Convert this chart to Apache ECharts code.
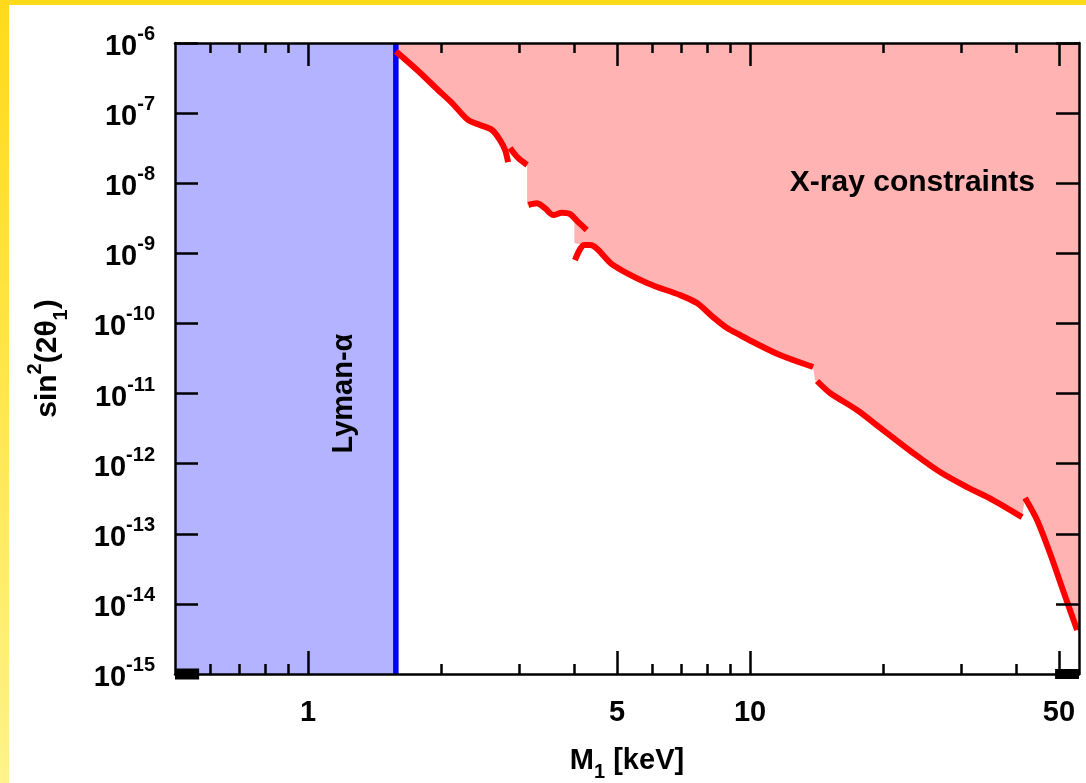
<!DOCTYPE html>
<html><head><meta charset="utf-8">
<script src="https://cdn.jsdelivr.net/npm/echarts@6/dist/echarts.min.js"></script>
<style>
html,body{margin:0;padding:0;width:1086px;height:783px;overflow:hidden;}
body{background:linear-gradient(to bottom,#ffda1a 0%,#ffe546 45%,#fff38a 100%);}
#chart{position:absolute;left:9px;top:5px;width:1077px;height:778px;background:#ffffff;}
</style></head>
<body><div id="chart"></div>
<script>
// ---- axis ranges and ticks ----
const xRange = [0.5, 55.5];
const yRange = [1e-15, 1e-6];
const xMajorTicks = [1, 5, 10, 50];
const xMinorTicks = [0.6, 0.7, 0.8, 0.9, 2, 3, 4, 6, 7, 8, 9, 20, 30, 40];
const xTickLabels = [1, 5, 10, 50];
const yTicks = [1e-15, 1e-14, 1e-13, 1e-12, 1e-11, 1e-10, 1e-9, 1e-8, 1e-7, 1e-6];

// ---- Lyman-alpha bound (keV) ----
const lymanBound = 1.58;
const lymanRegion = [[0.5, 1e-15], [1.58, 1e-15]];
const lymanLine = [[1.58, 1e-15], [1.58, 1e-6]];

// ---- X-ray constraint curve pieces [M1 keV, sin^2(2theta)] ----
const seg1 = [[1.58, 7.6e-7], [1.765, 4.12e-7], [1.968, 2.14e-7], [2.118, 1.39e-7], [2.301, 7.98e-8],
              [2.449, 6.76e-8], [2.607, 5.74e-8], [2.718, 4.13e-8], [2.791, 2.98e-8], [2.835, 2.0e-8]];
const seg2 = [[2.864, 3.18e-8], [2.987, 2.29e-8], [3.13, 1.82e-8]];
const seg3 = [[3.151, 4.89e-9], [3.291, 5.16e-9], [3.438, 4.39e-9], [3.589, 3.52e-9], [3.750, 3.79e-9],
              [3.915, 3.64e-9], [4.055, 2.92e-9], [4.271, 2.15e-9]];
const seg4 = [[4.018, 8.0e-10], [4.211, 1.31e-9], [4.345, 1.31e-9], [4.898, 6.81e-10], [5.848, 3.77e-10],
              [6.944, 2.54e-10], [7.586, 1.95e-10], [8.248, 1.23e-10], [8.872, 8.59e-11], [9.49, 6.84e-11],
              [10.16, 5.43e-11], [11.69, 3.54e-11], [13.89, 2.39e-11]];
const seg5 = [[14.18, 1.51e-11], [15.17, 1.02e-11], [17.46, 5.82e-12], [20.0, 3.01e-12], [23.38, 1.42e-12],
              [26.91, 7.59e-13], [30.97, 4.63e-13], [35.46, 3.03e-13], [41.25, 1.73e-13]];
const seg6 = [[41.9, 3.23e-13], [44.6, 1.57e-13], [47.7, 5.31e-14], [51.06, 1.57e-14], [54.95, 4.23e-15]];

// ---- boundary of the excluded (shaded) X-ray region ----
const xrayEdge = [
  [1.58, 7.6e-7], [1.765, 4.12e-7], [1.968, 2.14e-7], [2.118, 1.39e-7], [2.301, 7.98e-8],
  [2.449, 6.76e-8], [2.607, 5.74e-8], [2.718, 4.13e-8], [2.791, 2.98e-8], [2.835, 2.0e-8],
  [2.864, 3.18e-8], [2.987, 2.29e-8], [3.13, 1.82e-8], [3.13, 4.89e-9],
  [3.151, 4.89e-9], [3.291, 5.16e-9], [3.438, 4.39e-9], [3.589, 3.52e-9], [3.750, 3.79e-9],
  [3.915, 3.64e-9], [4.004, 3.1e-9], [4.004, 1.40e-9],
  [4.211, 1.31e-9], [4.345, 1.31e-9], [4.898, 6.81e-10], [5.848, 3.77e-10],
  [6.944, 2.54e-10], [7.586, 1.95e-10], [8.248, 1.23e-10], [8.872, 8.59e-11], [9.49, 6.84e-11],
  [10.16, 5.43e-11], [11.69, 3.54e-11], [13.89, 2.39e-11], [14.03, 2.3e-11], [14.03, 1.55e-11],
  [14.18, 1.51e-11], [15.17, 1.02e-11], [17.46, 5.82e-12], [20.0, 3.01e-12], [23.38, 1.42e-12],
  [26.91, 7.59e-13], [30.97, 4.63e-13], [35.46, 3.03e-13], [41.25, 1.73e-13],
  [41.9, 3.23e-13], [44.6, 1.57e-13], [47.7, 5.31e-14], [51.06, 1.57e-14], [54.95, 4.23e-15], [55.5, 3.6e-15]
];

// ---- heavy frame marks at the bottom corners ----
const cornerMarkLeft = [[0.5, 1e-15], [0.567, 1e-15]];
const cornerMarkRight = [[49.0, 1e-15], [55.5, 1e-15]];

// ---- annotations ----
const lymanText = [[1.205, 1.0e-11]];
const xrayText = [[23.3, 1.0e-8]];

const FONT = '"Liberation Sans", Arial, Helvetica, sans-serif';
const AXW = 2.5;

const chart = echarts.init(document.getElementById('chart'), null, {renderer: 'canvas'});

function xAxisDef(pos, ticks, len, showLine, withLabels) {
  const a = {
    type: 'log', logBase: 10, min: xRange[0], max: xRange[1], position: pos, z: 10,
    axisLine: {show: showLine, onZero: false, lineStyle: {color: '#000', width: AXW}},
    axisTick: {show: true, inside: true, length: len, customValues: ticks, lineStyle: {color: '#000', width: AXW}},
    axisLabel: {show: false},
    splitLine: {show: false}, minorTick: {show: false}, minorSplitLine: {show: false}
  };
  if (withLabels) {
    a.axisLabel = {
      show: true, customValues: xTickLabels, margin: 24,
      formatter: v => String(v),
      color: '#000', fontSize: 29, fontWeight: 'bold', fontFamily: FONT
    };
    a.name = '{a|M}{sub|1}{a| [keV]}';
    a.nameLocation = 'middle';
    a.nameGap = 72;
    a.nameTextStyle = {
      rich: {
        a: {fontSize: 29, fontWeight: 'bold', fontFamily: FONT, color: '#000', lineHeight: 36, verticalAlign: 'top'},
        sub: {fontSize: 20, fontWeight: 'bold', fontFamily: FONT, color: '#000', lineHeight: 36, verticalAlign: 'bottom'}
      }
    };
  }
  return a;
}

function yAxisDef(pos, withLabels) {
  const a = {
    type: 'log', logBase: 10, min: yRange[0], max: yRange[1], position: pos, z: 10,
    axisLine: {show: true, onZero: false, lineStyle: {color: '#000', width: AXW}},
    axisTick: {show: true, inside: true, length: 23, customValues: yTicks, lineStyle: {color: '#000', width: AXW}},
    axisLabel: {show: false},
    splitLine: {show: false}, minorTick: {show: false}, minorSplitLine: {show: false}
  };
  if (withLabels) {
    a.axisLabel = {
      show: true, customValues: yTicks, margin: 20,
      formatter: v => '{b|10}{s|' + Math.round(Math.log10(v)) + '}',
      rich: {
        b: {fontSize: 29, fontWeight: 'bold', fontFamily: FONT, color: '#000', lineHeight: 37, verticalAlign: 'bottom'},
        s: {fontSize: 20, fontWeight: 'bold', fontFamily: FONT, color: '#000', lineHeight: 37, verticalAlign: 'top'}
      }
    };
    a.name = '{a|sin}{sup|2}{a|(2θ}{sub|1}{a|)}';
    a.nameLocation = 'middle';
    a.nameGap = 104;
    a.nameTextStyle = {
      rich: {
        a: {fontSize: 30, fontWeight: 'bold', fontFamily: FONT, color: '#000', lineHeight: 46, verticalAlign: 'middle'},
        sup: {fontSize: 20, fontWeight: 'bold', fontFamily: FONT, color: '#000', lineHeight: 46, verticalAlign: 'top'},
        sub: {fontSize: 20, fontWeight: 'bold', fontFamily: FONT, color: '#000', lineHeight: 46, verticalAlign: 'bottom'}
      }
    };
  }
  return a;
}

const redSeries = [seg1, seg2, seg3, seg4, seg5, seg6].map(seg => ({
  type: 'line', data: seg, symbol: 'none', z: 5, silent: true, smooth: 0.3,
  lineStyle: {color: '#ff0000', width: 6, cap: 'butt', join: 'round'}
}));

const option = {
  animation: false,
  backgroundColor: 'transparent',
  grid: {left: 166, right: 7, top: 38, bottom: 109, containLabel: false, outerBoundsMode: 'none'},
  xAxis: [
    xAxisDef('bottom', xMajorTicks, 23, true, true),
    xAxisDef('bottom', xMinorTicks, 10, false, false),
    xAxisDef('top', xMajorTicks, 23, true, false),
    xAxisDef('top', xMinorTicks, 10, false, false)
  ],
  yAxis: [yAxisDef('left', true), yAxisDef('right', false)],
  series: [
    {type: 'line', data: lymanRegion, symbol: 'none', z: 1, silent: true,
     lineStyle: {width: 0}, areaStyle: {color: '#b3b3ff', opacity: 1, origin: 'end'}},
    {type: 'line', data: xrayEdge, symbol: 'none', z: 1, silent: true,
     lineStyle: {width: 0}, areaStyle: {color: '#ffb3b3', opacity: 1, origin: 'end'}},
    {type: 'line', data: lymanLine, symbol: 'none', z: 4, silent: true,
     lineStyle: {color: '#0000ff', width: 5.5}},
    ...redSeries,
    {type: 'line', data: cornerMarkLeft, symbol: 'none', z: 12, clip: false, silent: true,
     lineStyle: {color: '#000', width: 11, cap: 'butt'}},
    {type: 'line', data: cornerMarkRight, symbol: 'none', z: 12, clip: false, silent: true,
     lineStyle: {color: '#000', width: 10, cap: 'butt'}},
    {type: 'scatter', data: lymanText, symbolSize: 0, z: 6, silent: true,
     label: {show: true, position: 'inside', rotate: 90, formatter: 'Lyman-α', opacity: 1, textBorderWidth: 0,
             fontSize: 29, fontWeight: 'bold', fontFamily: FONT, color: '#000000'}},
    {type: 'scatter', data: xrayText, symbolSize: 0, z: 6, silent: true,
     label: {show: true, position: 'inside', formatter: 'X-ray constraints', opacity: 1, textBorderWidth: 0,
             fontSize: 30, fontWeight: 'bold', fontFamily: FONT, color: '#000000'}}
  ]
};
chart.setOption(option);
</script>
</body></html>
